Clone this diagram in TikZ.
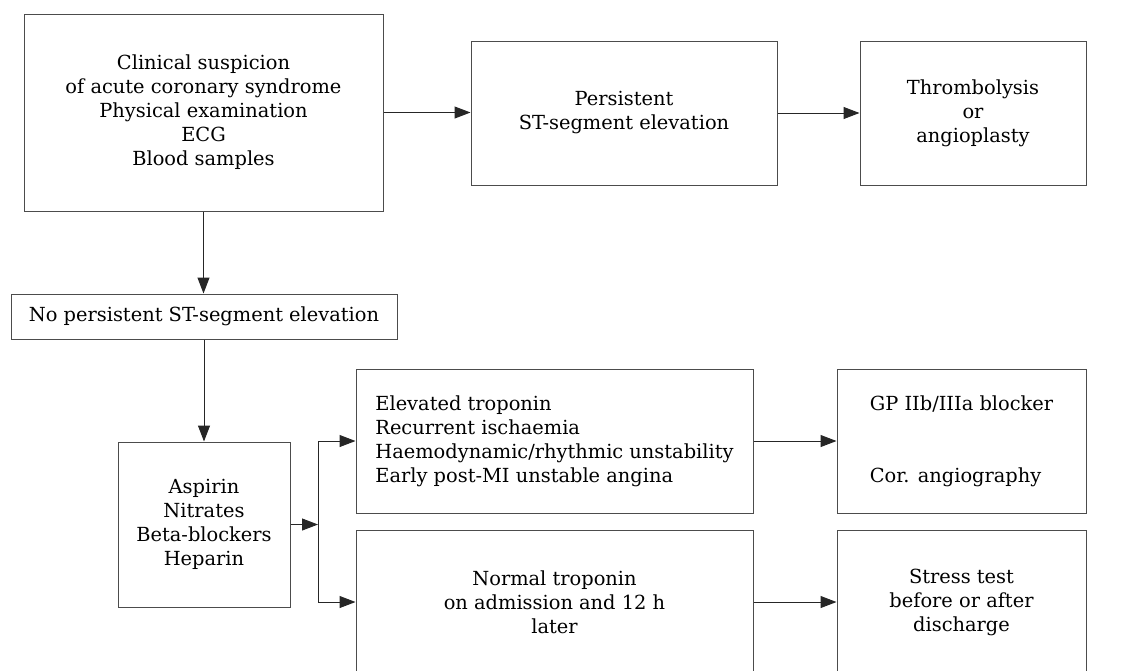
\documentclass[tikz,border=0pt]{standalone}
\usepackage{fontspec}
\setmainfont{DejaVu Serif}
\usetikzlibrary{arrows.meta}

\begin{document}
\begin{tikzpicture}[x = 0.5pt, y = -0.5pt, line width = 0.5pt,
	box/.style = {draw = black!70, inner sep = 0pt, align = center,
		font = \fontsize{9.7pt}{12pt}\selectfont, text = black},
	arrow/.style = {draw = black!85, -{Triangle[length = 8pt, width = 6pt]}}]
	\useasboundingbox (0, 0) rectangle (1144, 670);

	% Obere Reihe:
	\node [box, minimum width = 179.5pt, minimum height = 98.5pt] (clinical) at (203.5, 112.5)
		{Clinical suspicion\\of acute coronary syndrome\\Physical examination\\ECG\\Blood samples};
	\node [box, minimum width = 153pt, minimum height = 72pt] (persistent) at (624, 113)
		{Persistent\\ST-segment elevation};
	\node [box, minimum width = 113pt, minimum height = 72pt] (thrombo) at (973, 113)
		{Thrombolysis\\or\\angioplasty};

	\draw [arrow] (clinical.east) -- (clinical.east -| persistent.west);
	\draw [arrow] (persistent.east) -- (persistent.east -| thrombo.west);

	% Linke Spalte:
	\node [box, minimum width = 193pt, minimum height = 22.5pt] (nopersist) at (204, 316.5)
		{No persistent ST-segment elevation};
	\node [box, minimum width = 86pt, minimum height = 82.5pt] (aspirin) at (204, 524.5)
		{Aspirin\\Nitrates\\Beta-blockers\\Heparin};

	\draw [arrow] (clinical.south) -- (clinical.south |- nopersist.north);
	\draw [arrow] (nopersist.south) -- (nopersist.south |- aspirin.north);

	% Untere Reihen:
	\begin{scope}[minimum height = 72pt]
		\node [box, align = left, minimum width = 198.5pt] (elevated) at (554.5, 441)
			{Elevated troponin\\Recurrent ischaemia\\Haemodynamic/rhythmic unstability\\Early post-MI unstable angina};
		\node [box, minimum width = 198.5pt] (normal) at (554.5, 602)
			{Normal troponin\\on admission and 12 h\\later};
		\node [box, align = left, minimum width = 124.5pt] (gpblock) at (961.5, 441)
			{GP IIb/IIIa blocker\\[24pt]Cor. angiography};
		\node [box, minimum width = 124.5pt] (stresstest) at (961.5, 602)
			{Stress test\\before or after\\discharge};
	\end{scope}

	% Verzweigung:
	\coordinate (split) at (318, 524.5);
	\draw [arrow] (aspirin.east) -- (split);
	\foreach \ziel in {elevated, normal} {
		\draw [arrow] (split) |- (\ziel.west);
	}
	\draw [arrow] (elevated.east) -- (gpblock.west);
	\draw [arrow] (normal.east) -- (stresstest.west);
\end{tikzpicture}
\end{document}
